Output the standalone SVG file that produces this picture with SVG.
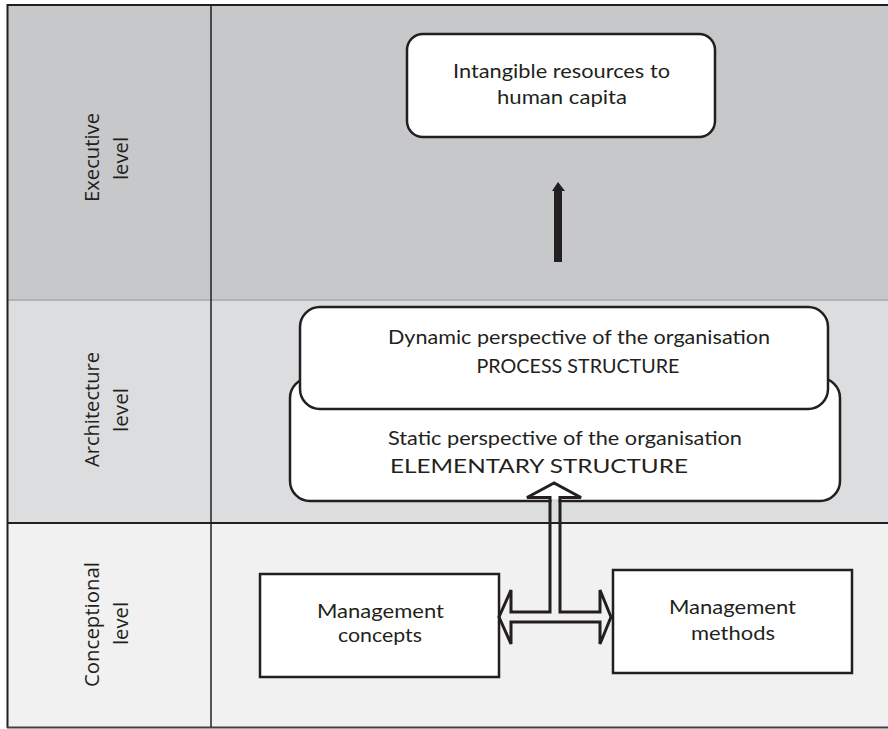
<svg xmlns="http://www.w3.org/2000/svg" width="888" height="729" viewBox="0 0 888 729">
<style>
.lbl{font-family:"Open Sans","DejaVu Sans",sans-serif;font-size:20px;fill:#231f20;text-anchor:middle}
.t{font-family:Lato,"Open Sans",sans-serif;font-size:19px;fill:#231f20}
.c{text-anchor:middle}
.box{fill:#ffffff;stroke:#231f20;stroke-width:2.5}
</style>
<g id="bands">
<rect x="8" y="5" width="880" height="295" fill="#c7c8ca"/>
<rect x="8" y="300" width="880" height="223" fill="#dcdddf"/>
<rect x="8" y="523" width="880" height="204" fill="#f1f1f1"/>
<line x1="8" y1="300" x2="888" y2="300" stroke="#a7a9ac" stroke-width="1.5"/>
<line x1="8" y1="523" x2="888" y2="523" stroke="#231f20" stroke-width="2"/>
<line x1="7" y1="5" x2="888" y2="5" stroke="#231f20" stroke-width="2"/>
<line x1="7.5" y1="4" x2="7.5" y2="728" stroke="#231f20" stroke-width="2"/>
<line x1="7" y1="727.5" x2="888" y2="727.5" stroke="#414042" stroke-width="2"/>
<line x1="211" y1="5" x2="211" y2="727" stroke="#231f20" stroke-width="1.5"/>
</g>
<g id="label-executive">
<text class="lbl" transform="rotate(-90 99 157.5)" x="99" y="157.5" textLength="89" lengthAdjust="spacingAndGlyphs">Executive</text>
<text class="lbl" transform="rotate(-90 128 158.5)" x="128" y="158.5" textLength="43" lengthAdjust="spacingAndGlyphs">level</text>
</g>
<g id="label-architecture">
<text class="lbl" transform="rotate(-90 99 409.5)" x="99" y="409.5" textLength="115" lengthAdjust="spacingAndGlyphs">Architecture</text>
<text class="lbl" transform="rotate(-90 128 410)" x="128" y="410" textLength="44" lengthAdjust="spacingAndGlyphs">level</text>
</g>
<g id="label-conceptional">
<text class="lbl" transform="rotate(-90 99 624.5)" x="99" y="624.5" textLength="125" lengthAdjust="spacingAndGlyphs">Conceptional</text>
<text class="lbl" transform="rotate(-90 128 623.5)" x="128" y="623.5" textLength="43" lengthAdjust="spacingAndGlyphs">level</text>
</g>
<g id="node-intangible">
<rect class="box" x="407" y="34" width="308" height="103" rx="16"/>
<text class="t c" x="561.5" y="78" textLength="217" lengthAdjust="spacingAndGlyphs">Intangible resources to</text>
<text class="t c" x="562" y="104" textLength="130" lengthAdjust="spacingAndGlyphs">human capita</text>
</g>
<g id="node-static">
<rect class="box" x="290" y="378" width="550" height="123" rx="20"/>
<text class="t" x="388" y="445" textLength="354" lengthAdjust="spacingAndGlyphs">Static perspective of the organisation</text>
<text class="t" x="390" y="473" textLength="298" lengthAdjust="spacingAndGlyphs">ELEMENTARY STRUCTURE</text>
</g>
<g id="node-dynamic">
<rect class="box" x="300" y="307" width="528" height="102" rx="20"/>
<text class="t c" x="579" y="344" textLength="382" lengthAdjust="spacingAndGlyphs">Dynamic perspective of the organisation</text>
<text class="t c" x="578" y="373" textLength="203" lengthAdjust="spacingAndGlyphs">PROCESS STRUCTURE</text>
</g>
<g id="node-concepts">
<rect class="box" x="260" y="574" width="239" height="103"/>
<text class="t c" x="380.5" y="618" textLength="127" lengthAdjust="spacingAndGlyphs">Management</text>
<text class="t c" x="380" y="642" textLength="84" lengthAdjust="spacingAndGlyphs">concepts</text>
</g>
<g id="node-methods">
<rect class="box" x="613" y="570" width="239" height="103"/>
<text class="t c" x="732.5" y="614" textLength="127" lengthAdjust="spacingAndGlyphs">Management</text>
<text class="t c" x="733" y="640" textLength="84" lengthAdjust="spacingAndGlyphs">methods</text>
</g>
<g id="connectors">
<path d="M554,262 L554,191 L552,191 L558,182 L565,191 L562,191 L562,262 Z" fill="#231f20"/>
<rect x="551.5" y="499" width="7" height="4" fill="#dcdddf"/>
<path d="M554,483 L527,497.5 L550,497.5 L550,612 L511,612 L511,590 L499,617 L511,644 L511,622 L600,622 L600,644 L611,617 L600,590 L600,612 L560,612 L560,497.5 L581,497.5 Z" fill="none" stroke="#231f20" stroke-width="3" stroke-linejoin="miter"/>
</g>
</svg>
